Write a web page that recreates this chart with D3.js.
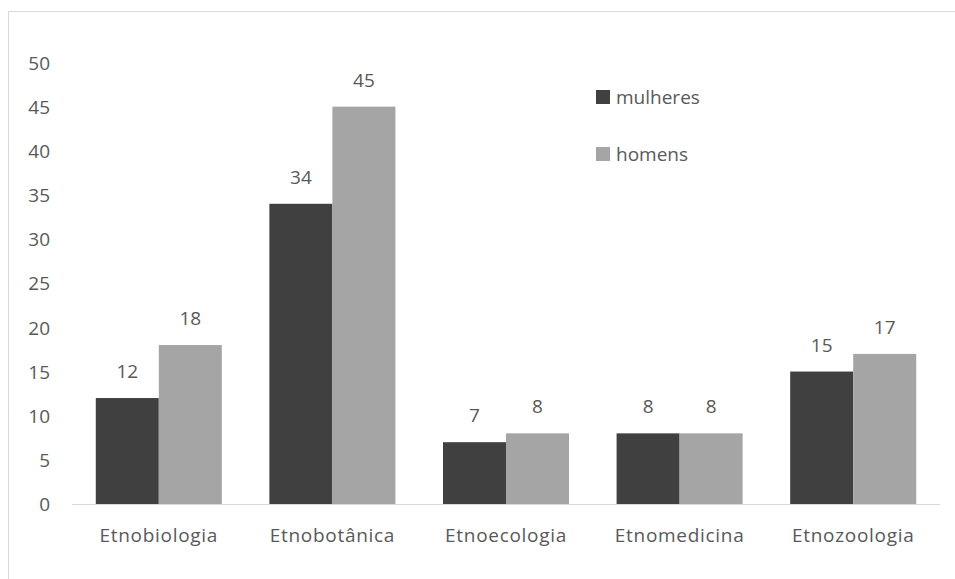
<!DOCTYPE html>
<html><head><meta charset="utf-8">
<script src="https://cdn.jsdelivr.net/npm/d3@7"></script>
<style>body{margin:0;background:#fff}svg{display:block}text{font-family:"Open Sans",sans-serif;fill:#595959}</style>
</head><body>
<script>
const categories = ["Etnobiologia","Etnobotânica","Etnoecologia","Etnomedicina","Etnozoologia"];
const seriesNames = ["mulheres","homens"];
const mulheres = [12,34,7,8,15];
const homens = [18,45,8,8,17];
const yTicks = [0,5,10,15,20,25,30,35,40,45,50];
const colors = ["#404040","#a5a5a5"];

const W=955,H=579,FS="19px";
const svg=d3.select("body").append("svg").attr("width",W).attr("height",H);
svg.append("rect").attr("x",8.5).attr("y",11.5).attr("width",W+10).attr("height",H+10)
  .attr("fill","none").attr("stroke","#d9d9d9");

const x0=d3.scaleBand().domain(categories).range([72,940]).paddingInner(0.274).paddingOuter(0.137);
const x1=d3.scaleBand().domain(seriesNames).range([0,x0.bandwidth()]);
const y=d3.scaleLinear().domain([0,50]).range([504,62.5]);

const yAxis=svg.append("g").attr("transform","translate(50,0)")
  .call(d3.axisLeft(y).tickValues(yTicks).tickSize(0).tickPadding(0));
yAxis.select(".domain").remove();
yAxis.selectAll("text").style("font-size",FS).attr("dy","0.35em").attr("fill","#595959");

const data=[mulheres,homens];
const g=svg.append("g");
categories.forEach((c,i)=>{
  seriesNames.forEach((s,j)=>{
    const v=data[j][i];
    g.append("rect").attr("x",x0(c)+x1(s)).attr("y",y(v)).attr("width",x1.bandwidth())
      .attr("height",y(0)-y(v)).attr("fill",colors[j]);
    g.append("text").attr("x",x0(c)+x1(s)+x1.bandwidth()/2).attr("y",y(v)-20)
      .attr("text-anchor","middle").style("font-size",FS).text(v);
  });
});

const xAxis=svg.append("g").attr("transform","translate(0,504)")
  .call(d3.axisBottom(x0).tickSize(0).tickPadding(0));
xAxis.select(".domain").attr("stroke","#d9d9d9").attr("d","M72,0.5H940");
xAxis.selectAll("text").style("font-size",FS).style("letter-spacing","0.7px")
  .attr("y",31).attr("dy","0.35em").attr("fill","#595959");

const leg=svg.append("g");
seriesNames.forEach((s,j)=>{
  const yy=[97,154][j];
  leg.append("rect").attr("x",596).attr("y",yy-7).attr("width",14).attr("height",14).attr("fill",colors[j]);
  leg.append("text").attr("x",616).attr("y",yy).attr("dy","0.35em").style("font-size",FS).text(s);
});
</script>
</body></html>
